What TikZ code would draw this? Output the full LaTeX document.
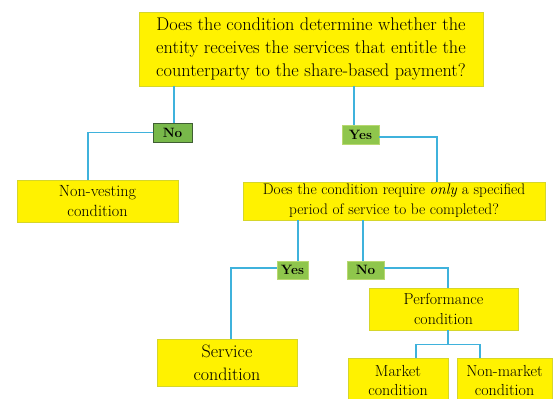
\documentclass[tikz,border=0pt]{standalone}
\definecolor{boxedge}{HTML}{D6D62A}
\definecolor{nofill}{HTML}{78B84A}
\definecolor{noedge}{HTML}{3F5E33}
\definecolor{yesfill}{HTML}{8FC64C}
\definecolor{yesedge}{HTML}{B8D870}
\definecolor{linkblue}{HTML}{3FB2DC}
\begin{document}
\begin{tikzpicture}[x=1pt,y=-1pt,
  box/.style={draw=boxedge, line width=0.8pt, fill=yellow, inner sep=0pt, align=center, text=black},
  yesno/.style={draw=noedge, line width=0.7pt, fill=nofill, inner sep=0pt, text=black, font=\bfseries\fontsize{13.5}{14}\selectfont},
  yesnolight/.style={yesno, draw=yesedge, fill=yesfill},
  link/.style={draw=linkblue, line width=1.8pt}]
\useasboundingbox[fill=white] (0,0) rectangle (555,399);
\begin{scope}
\clip (0,0) rectangle (555,399);

% question boxes
\node[box, minimum width=344pt, minimum height=74pt, font=\fontsize{18.3}{23}\selectfont]
  (top) at (311,49) {Does the condition determine whether the\\entity receives the services that entitle the\\counterparty to the share-based payment?};
\node[box, minimum width=302pt, minimum height=38pt, font=\fontsize{15.3}{20}\selectfont]
  (q2) at (394,201) {Does the condition require \emph{only} a specified\\period of service to be completed?};

% outcome boxes
\node[box, minimum width=161pt, minimum height=42pt, font=\fontsize{16.2}{20}\selectfont]
  (nv) at (97.5,201) {Non-vesting\\condition};
\node[box, minimum width=140pt, minimum height=47pt, font=\fontsize{18}{23}\selectfont]
  (serv) at (227,362.5) {Service\\condition};
\node[box, minimum width=149pt, minimum height=42pt, font=\fontsize{15.9}{20}\selectfont]
  (perf) at (443.5,309) {Performance\\condition};
\node[box, minimum width=100pt, minimum height=46pt, font=\fontsize{16}{19}\selectfont]
  (mkt) at (398,381) {Market\\condition};
\node[box, minimum width=95pt, minimum height=46pt, font=\fontsize{16}{19}\selectfont]
  (nmkt) at (504.5,381) {Non-market\\condition};

% answer labels
\node[yesno, minimum width=39pt, minimum height=19pt] (no1) at (172.5,132.5) {No};
\node[yesnolight, minimum width=37pt, minimum height=19pt] (yes1) at (360.5,134.5) {Yes};
\node[yesnolight, minimum width=31pt, minimum height=18pt] (yes2) at (292.5,270) {Yes};
\node[yesnolight, minimum width=37pt, minimum height=18pt] (no2) at (365.5,270) {No};

% connectors
\draw[link] ([xshift=1.5pt]no1.north) -- ([xshift=1.5pt]no1.north |- top.south);
\draw[link] (no1.west) -| ([xshift=-9.5pt]nv.north);
\draw[link] ([xshift=-6.5pt]yes1.north) -- ([xshift=-6.5pt]yes1.north |- top.south);
\draw[link] ([yshift=-2.5pt]yes1.east) -| ([xshift=43pt]q2.north);
\draw[link] ([xshift=5.5pt]yes2.north) -- ([xshift=5.5pt]yes2.north |- q2.south);
\draw[link] ([xshift=-2.5pt]no2.north) -- ([xshift=-2.5pt]no2.north |- q2.south);
\draw[link] ([yshift=2pt]yes2.west) -| ([xshift=4pt]serv.north);
\draw[link] ([yshift=2pt]no2.east) -| ([xshift=4.5pt]perf.north);
\draw[link] ([xshift=4.5pt]perf.south) -- ++(0,14) coordinate (split);
\draw[link] (split) -| ([xshift=18pt]mkt.north);
\draw[link] (split) -| ([xshift=-24.5pt]nmkt.north);
\end{scope}
\end{tikzpicture}
\end{document}
